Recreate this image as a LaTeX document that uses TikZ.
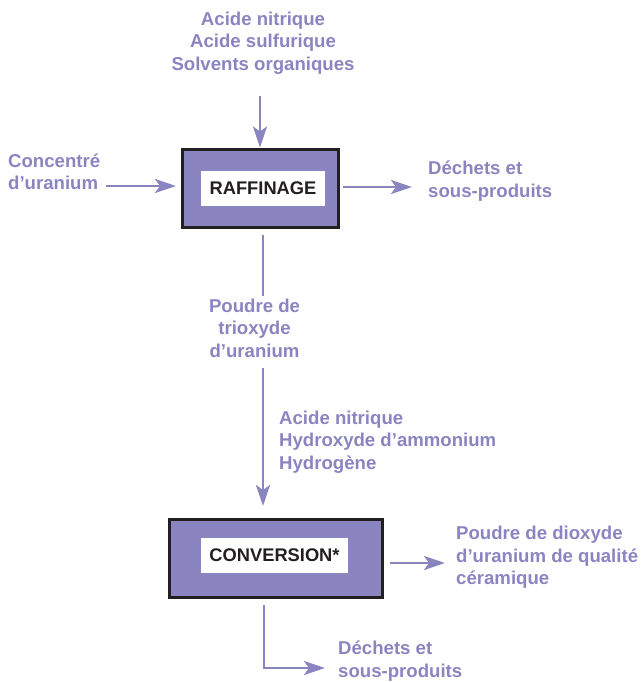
\documentclass[tikz,border=0pt]{standalone}
\usepackage{fontspec}
\setmainfont{Liberation Sans}
\usetikzlibrary{arrows.meta}
\definecolor{purp}{RGB}{138,132,193}
\definecolor{boxline}{RGB}{35,31,32}
\tikzset{
  lbl/.style={text=purp, font=\fontsize{18.6}{22.5}\selectfont\bfseries, inner sep=0pt},
  procbox/.style={draw=boxline, line width=3pt, fill=purp, inner sep=0pt},
  procname/.style={fill=white, inner sep=0pt, font=\fontsize{18.3}{22}\selectfont\bfseries, text=boxline},
  arr/.style={draw=purp, line width=2.8pt, -{Stealth[length=21pt,width=14pt,inset=5pt]}},
  ln/.style={draw=purp, line width=2.8pt}
}
\begin{document}
\begin{tikzpicture}[x=1pt,y=-1pt]
\useasboundingbox (0,0) rectangle (640,682);
\clip (0,0) rectangle (640,682);
% Raffinage
\node[procbox, minimum width=156pt, minimum height=78pt] (raf) at (260,188) {};
\node[procname, minimum width=124pt, minimum height=35pt] (rafl) at (263,188.5) {RAFFINAGE};
% Conversion
\node[procbox, minimum width=213pt, minimum height=78pt] (conv) at (275.5,558) {};
\node[procname, minimum width=147pt, minimum height=35pt] (convl) at (274.5,555.5) {CONVERSION*};
% Labels
\node[lbl, align=center] (top) at (263,43) {Acide nitrique\\Acide sulfurique\\Solvents organiques};
\node[lbl, align=left, anchor=west] (conc) at (8,172) {Concentré\\d’uranium};
\node[lbl, align=left, anchor=west] (dech1) at (428,181) {Déchets et\\sous-produits};
\node[lbl, align=center] (trio) at (254.5,328) {Poudre de\\trioxyde\\d’uranium};
\node[lbl, align=left, anchor=west] (reag) at (279,442) {Acide nitrique\\Hydroxyde d’ammonium\\Hydrogène};
\node[lbl, align=left, anchor=west] (diox) at (456,557.5) {Poudre de dioxyde\\d’uranium de qualité\\céramique};
\node[lbl, align=left, anchor=west] (dech2) at (338,661) {Déchets et\\sous-produits};
% Coordinates
\coordinate (t0) at (260,96);
\coordinate (c0) at (106,186);
\coordinate (c1) at (176,186);
\coordinate (d0) at (343,187);
\coordinate (d1) at (412,187);
\coordinate (v0) at (263,235);
\coordinate (v1) at (263,296);
\coordinate (v2) at (263,368);
\coordinate (v3) at (263,506);
\coordinate (o0) at (390,563);
\coordinate (o1) at (445,563);
\coordinate (b0) at (264,605);
\coordinate (b1) at (264,668);
\coordinate (b2) at (325,668);
% Connectors
\draw[arr] (t0) -- (raf.north -| t0);
\draw[arr] (c0) -- (c1);
\draw[arr] (d0) -- (d1);
\draw[ln] (v0) -- (v1);
\draw[arr] (v2) -- (v3);
\draw[arr] (o0) -- (o1);
\draw[arr] (b0) -- (b1) -- (b2);
\end{tikzpicture}
\end{document}
